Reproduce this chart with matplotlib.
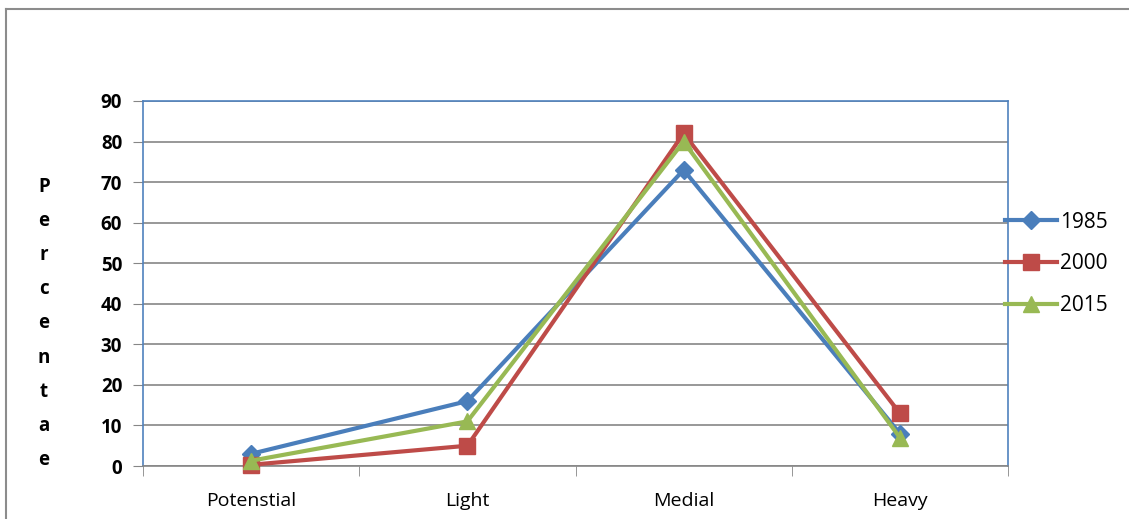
import numpy as np
import matplotlib.pyplot as plt
from matplotlib.lines import Line2D

categories = ['Potenstial', 'Light', 'Medial', 'Heavy']
series_names = ['1985', '2000', '2015']
values_1985 = [3, 16, 73, 8]
values_2000 = [0.3, 5, 82, 13]
values_2015 = [1.3, 11, 80, 7]
y_ticks = [0, 10, 20, 30, 40, 50, 60, 70, 80, 90]
ylabel_text = 'Percentae'

colors = ['#4A7EBB', '#BE4B48', '#98B954']
markers = ['D', 's', '^']
msizes = [9, 11, 12]


def main():
    plt.rcParams['font.family'] = ['Open Sans', 'DejaVu Sans']

    fig = plt.figure(figsize=(11.29, 5.19), dpi=100)
    ax = fig.add_axes([143 / 1129, 1 - 466 / 519, 865 / 1129, 365 / 519])

    x = np.arange(len(categories))
    all_values = [values_1985, values_2000, values_2015]
    handles = []
    for vals, name, c, m, ms in zip(all_values, series_names, colors, markers, msizes):
        ax.plot(x, vals, color=c, lw=3, marker=m, markersize=ms, zorder=3, clip_on=False)
        handles.append(Line2D([], [], color=c, lw=3, marker=m, markersize=ms, label=name))

    ax.set_xlim(-0.5, len(categories) - 0.5)
    ax.set_ylim(0, 90)
    ax.set_yticks(y_ticks)
    ax.set_yticklabels([str(v) for v in y_ticks], fontweight='bold', fontsize=13.5)

    ax.set_xticks(x)
    ax.set_xticklabels(categories, fontsize=14)
    ax.set_xticks(np.arange(len(categories) + 1) - 0.5, minor=True)
    ax.tick_params(axis='x', which='major', length=0, pad=19)
    ax.tick_params(axis='x', which='minor', length=7, color='#868686', direction='out')
    ax.tick_params(axis='y', length=7, color='#868686', direction='out', pad=8)

    ax.grid(axis='y', color='#868686', lw=1.2)
    ax.set_axisbelow(True)
    for side in ['left', 'top', 'right']:
        ax.spines[side].set_color('#4F81BD')
        ax.spines[side].set_linewidth(1.2)
    ax.spines['bottom'].set_color('#868686')
    ax.spines['bottom'].set_linewidth(1.2)

    # stacked vertical label
    top_y, bot_y = 1 - 187 / 519, 1 - 460 / 519
    ys = np.linspace(top_y, bot_y, len(ylabel_text))
    for ch, yy in zip(ylabel_text, ys):
        fig.text(44 / 1129, yy, ch, ha='center', va='center', fontsize=13.5, fontweight='bold')

    fig.legend(handles=handles, loc='center left', bbox_to_anchor=(986 / 1129, 1 - 264 / 519),
               frameon=False, fontsize=15, handlelength=2.5, handletextpad=0.15, labelspacing=1.0)

    # outer chart border (top and left)
    fig.add_artist(Line2D([6 / 1129, 1], [1 - 9 / 519, 1 - 9 / 519], color='#8C8C8C', lw=1.5))
    fig.add_artist(Line2D([6 / 1129, 6 / 1129], [0, 1 - 9 / 519], color='#8C8C8C', lw=1.5))

    fig.savefig('out.png', dpi=100)


if __name__ == '__main__':
    main()
